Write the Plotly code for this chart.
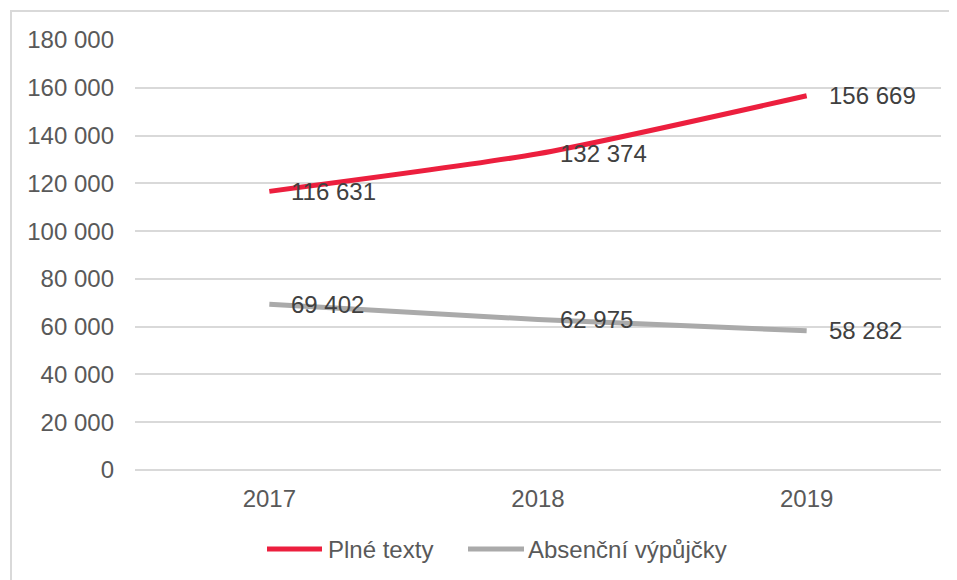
import plotly.graph_objects as go

years = ["2017", "2018", "2019"]
series_names = ["Plné texty", "Absenční výpůjčky"]
plne_texty = [116631, 132374, 156669]
absencni = [69402, 62975, 58282]
y_ticks = [0, 20000, 40000, 60000, 80000, 100000, 120000, 140000, 160000, 180000]
y_tick_labels = ["0", "20 000", "40 000", "60 000", "80 000", "100 000",
                 "120 000", "140 000", "160 000", "180 000"]

colors = ["#EC1F3E", "#AAAAAA"]
FONT = "Liberation Sans, Arial, sans-serif"
FS = 24

OFF = 8  # page body margin
W, H = 957 - OFF, 580 - OFF
# plot area in reference pixels: x 135..941, y 40..470
L, T = 135 - OFF, 40 - OFF
R = W - (941 - OFF)
B = H - (470 - OFF)
PW, PH = W - L - R, H - T - B


def px(x):
    return (x - OFF - L) / PW


def py(y):
    return (470 - y) / PH


def fmt(v):
    return f"{v:,}".replace(",", " ")


fig = go.Figure()
for name, vals, col in zip(series_names, [plne_texty, absencni], colors):
    fig.add_trace(go.Scatter(
        x=years, y=vals, mode="lines", name=name,
        line=dict(color=col, width=5, shape="spline", smoothing=0.6),
        showlegend=False, hoverinfo="skip"))
    for i, yv in enumerate(vals):
        fig.add_annotation(x=i, y=yv, text=fmt(yv), showarrow=False,
                           xanchor="left", yanchor="middle", xshift=20,
                           font=dict(family=FONT, size=FS, color="#404040"))

# custom legend
leg_y = py(549)
leg_items = [(267, 322, 326), (468, 524, 526)]
for (a, b, t), name, col in zip(leg_items, series_names, colors):
    fig.add_shape(type="line", xref="paper", yref="paper",
                  x0=px(a), x1=px(b), y0=leg_y, y1=leg_y,
                  line=dict(color=col, width=5))
    fig.add_annotation(xref="paper", yref="paper", x=px(t), y=leg_y,
                       text=name, showarrow=False, xanchor="left", yanchor="middle",
                       font=dict(family=FONT, size=FS, color="#595959"))

# chart border (left and top visible)
fig.add_shape(type="rect", xref="paper", yref="paper",
              x0=px(11), x1=px(980), y0=py(600), y1=py(11),
              line=dict(color="#D9D9D9", width=2), layer="below")

fig.update_layout(
    width=W, height=H,
    margin=dict(l=L, r=R, t=T, b=B, pad=0),
    paper_bgcolor="white", plot_bgcolor="white",
    font=dict(family=FONT, size=FS, color="#595959"),
    xaxis=dict(type="category", range=[-0.5, 2.5], showgrid=False,
               showline=False, zeroline=False, ticks="",
               ticklabelstandoff=12,
               tickfont=dict(family=FONT, size=FS, color="#595959")),
    yaxis=dict(range=[0, 180000], tickvals=y_ticks, ticktext=y_tick_labels,
               showgrid=True, gridcolor="#D9D9D9", gridwidth=1.5,
               zeroline=True, zerolinecolor="#D9D9D9", zerolinewidth=1.5,
               showline=False, ticks="", ticklabelstandoff=20,
               tickfont=dict(family=FONT, size=FS, color="#595959")),
    showlegend=False,
)

fig.write_html("out.html")
